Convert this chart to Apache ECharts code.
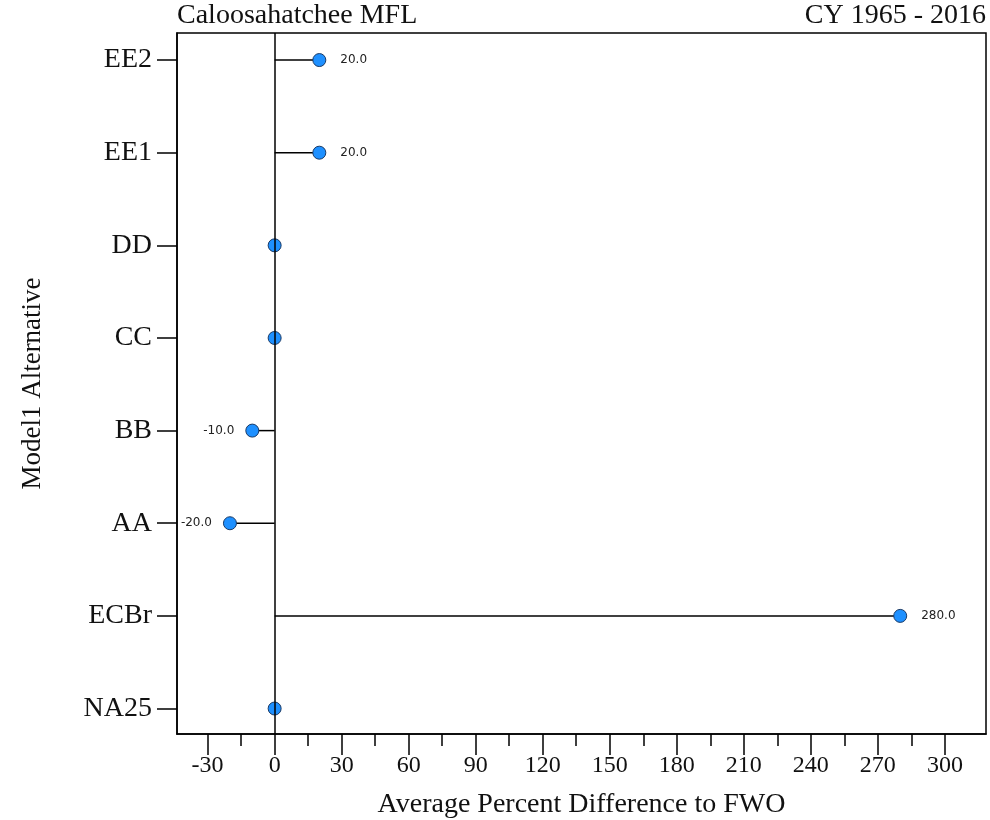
<!DOCTYPE html>
<html>
<head>
<meta charset="utf-8">
<script src="https://cdn.jsdelivr.net/npm/echarts@6/dist/echarts.min.js"></script>
<style>
  html, body { margin: 0; padding: 0; background: #fff; }
  #chart { width: 990px; height: 820px; }
</style>
</head>
<body>
<div id="chart"></div>
<script>
// Model alternatives, bottom to top
const categories = ['NA25', 'ECBr', 'AA', 'BB', 'CC', 'DD', 'EE1', 'EE2'];
// Average percent difference to FWO for each alternative
const values = [0, 280, -20, -10, 0, 0, 20, 20];
// Axis tick positions
const majorTicks = [-30, 0, 30, 60, 90, 120, 150, 180, 210, 240, 270, 300];
const minorTicks = [-15, 15, 45, 75, 105, 135, 165, 195, 225, 255, 285];

const serif = 'Liberation Serif';
const catIndex = categories.map((_, i) => i);

const points = values.map((v, i) => ({
  value: [v, i],
  label: {
    show: v !== 0,
    position: v < 0 ? 'left' : 'right',
    distance: v < 0 ? 11 : 14
  }
}));

const chart = echarts.init(document.getElementById('chart'), null, { renderer: 'canvas' });

chart.setOption({
  animation: false,
  backgroundColor: '#fff',
  title: [
    {
      text: 'Caloosahatchee MFL', left: 177, top: 2, padding: 0,
      textStyle: { fontFamily: serif, fontSize: 28, fontWeight: 'normal', color: '#111' }
    },
    {
      text: 'CY 1965 - 2016', right: 4, top: 2, padding: 0,
      textStyle: { fontFamily: serif, fontSize: 28, fontWeight: 'normal', color: '#111' }
    }
  ],
  grid: {
    left: 177, right: 4, top: 33, bottom: 86,
    outerBoundsMode: 'none', containLabel: false,
    show: true, borderColor: '#000', borderWidth: 1.5, backgroundColor: 'transparent'
  },
  xAxis: [
    {
      type: 'value', min: -43.7, max: 318.4, position: 'bottom',
      splitLine: { show: false },
      axisLine: { show: true, onZero: false, lineStyle: { color: '#000', width: 1.5 } },
      axisTick: { show: true, customValues: majorTicks, length: 21, lineStyle: { color: '#000', width: 1.5 } },
      axisLabel: {
        customValues: majorTicks, margin: 20,
        fontFamily: serif, fontSize: 24, color: '#111'
      },
      name: 'Average Percent Difference to FWO',
      nameLocation: 'middle', nameGap: 57,
      nameTextStyle: { fontFamily: serif, fontSize: 28, color: '#111' }
    },
    {
      type: 'value', min: -43.7, max: 318.4, position: 'bottom',
      splitLine: { show: false },
      axisLine: { show: false, onZero: false },
      axisTick: { show: true, customValues: minorTicks, length: 12, lineStyle: { color: '#000', width: 1.5 } },
      axisLabel: { show: false }
    }
  ],
  yAxis: {
    type: 'value', min: -0.275, max: 7.292, position: 'left',
    splitLine: { show: false },
    axisLine: { show: true, onZero: false, lineStyle: { color: '#000', width: 1.5 } },
    axisTick: { show: true, customValues: catIndex, length: 20, lineStyle: { color: '#000', width: 1.5 } },
    axisLabel: {
      customValues: catIndex, margin: 25,
      formatter: (v) => categories[Math.round(v)],
      fontFamily: serif, fontSize: 28, color: '#111'
    },
    name: 'Model1 Alternative',
    nameLocation: 'middle', nameGap: 131,
    nameTextStyle: { fontFamily: serif, fontSize: 27, color: '#111' }
  },
  series: [
    {
      // stems from zero to each value
      type: 'custom',
      xAxisIndex: 0,
      data: values.map((v, i) => [v, i]),
      renderItem: (params, api) => {
        const start = api.coord([0, api.value(1)]);
        const end = api.coord([api.value(0), api.value(1)]);
        return {
          type: 'line',
          shape: { x1: start[0], y1: start[1], x2: end[0], y2: end[1] },
          style: { stroke: '#000', lineWidth: 1.5 }
        };
      },
      z: 2,
      markLine: {
        silent: true, symbol: 'none', label: { show: false },
        lineStyle: { color: '#000', width: 1.5, type: 'solid' },
        data: [{ xAxis: 0 }]
      }
    },
    {
      type: 'scatter',
      xAxisIndex: 0,
      data: points,
      symbol: 'circle',
      symbolSize: 13,
      itemStyle: { color: '#1e90ff', borderColor: '#1a3a66', borderWidth: 1, opacity: 1 },
      label: {
        formatter: (p) => p.value[0].toFixed(1),
        fontFamily: 'DejaVu Sans', fontSize: 12, color: '#222'
      },
      z: 3
    }
  ]
});
</script>
</body>
</html>
